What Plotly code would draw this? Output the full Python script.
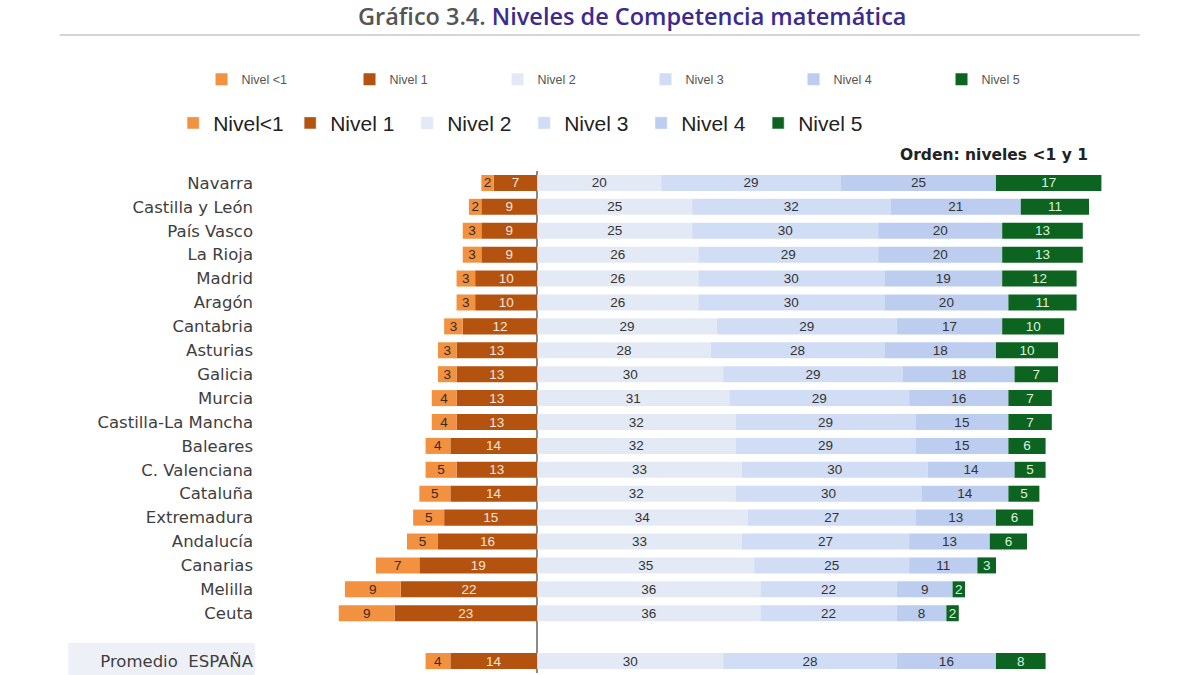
import plotly.graph_objects as go

regions = ["Navarra", "Castilla y León", "País Vasco", "La Rioja", "Madrid", "Aragón",
           "Cantabria", "Asturias", "Galicia", "Murcia", "Castilla-La Mancha", "Baleares",
           "C. Valenciana", "Cataluña", "Extremadura", "Andalucía", "Canarias", "Melilla",
           "Ceuta", "Promedio  ESPAÑA"]
spacer = " "

nivel_lt1 = [2, 2, 3, 3, 3, 3, 3, 3, 3, 4, 4, 4, 5, 5, 5, 5, 7, 9, 9, 4]
nivel_1 = [7, 9, 9, 9, 10, 10, 12, 13, 13, 13, 13, 14, 13, 14, 15, 16, 19, 22, 23, 14]
nivel_2 = [20, 25, 25, 26, 26, 26, 29, 28, 30, 31, 32, 32, 33, 32, 34, 33, 35, 36, 36, 30]
nivel_3 = [29, 32, 30, 29, 30, 30, 29, 28, 29, 29, 29, 29, 30, 30, 27, 27, 25, 22, 22, 28]
nivel_4 = [25, 21, 20, 20, 19, 20, 17, 18, 18, 16, 15, 15, 14, 14, 13, 13, 11, 9, 8, 16]
nivel_5 = [17, 11, 13, 13, 12, 11, 10, 10, 7, 7, 7, 6, 5, 5, 6, 6, 3, 2, 2, 8]

names = ["Nivel<1", "Nivel 1", "Nivel 2", "Nivel 3", "Nivel 4", "Nivel 5"]
names_small = ["Nivel <1", "Nivel 1", "Nivel 2", "Nivel 3", "Nivel 4", "Nivel 5"]
colors = ["#F2913F", "#B4520F", "#E4EAF5", "#D1DDF4", "#BCCDEF", "#0C6420"]
text_colors = ["#3A2A20", "#F6E6DA", "#333333", "#333333", "#333333", "#DDF2DD"]

categories = regions[:-1] + [spacer] + regions[-1:]

fig = go.Figure()

series = [
    (1, nivel_1, -1),
    (0, nivel_lt1, -1),
    (2, nivel_2, 1),
    (3, nivel_3, 1),
    (4, nivel_4, 1),
    (5, nivel_5, 1),
]
for idx, vals, sign in series:
    fig.add_trace(go.Bar(
        y=regions,
        x=[sign * v for v in vals],
        orientation="h",
        name=names_small[idx],
        legendrank=idx + 1,
        marker=dict(color=colors[idx], line=dict(width=0)),
        text=[str(v) for v in vals],
        textposition="inside",
        insidetextanchor="middle",
        textangle=0,
        constraintext="none",
        textfont=dict(family="Liberation Sans, Arial", size=13.5, color=text_colors[idx]),
        hoverinfo="skip",
        legend="legend",
    ))

# second (larger) legend
for idx in range(6):
    fig.add_trace(go.Bar(
        y=[regions[0]], x=[None], orientation="h",
        name=names[idx], legendrank=idx + 1,
        marker=dict(color=colors[idx]),
        legend="legend2", hoverinfo="skip",
    ))

fig.update_layout(
    barmode="relative",
    bargap=0.33,
    width=1200, height=675,
    paper_bgcolor="white", plot_bgcolor="white",
    margin=dict(l=260, r=80, t=171, b=2, autoexpand=False),
    font=dict(family="DejaVu Sans, Arial", color="#333333"),
    xaxis=dict(range=[-44.7, 94], showticklabels=False, showgrid=False,
               zeroline=True, zerolinecolor="#8A8A8A", zerolinewidth=2, fixedrange=True),
    yaxis=dict(categoryorder="array", categoryarray=categories, autorange=False,
               range=[20.5, -0.5], showgrid=False, zeroline=False, showline=False,
               ticks="", ticklabelstandoff=6,
               tickfont=dict(family="DejaVu Sans, Arial", size=16.5, color="#3E3E3E")),
    legend=dict(orientation="h", x=-0.068, y=1.212, xanchor="left", yanchor="top",
                entrywidth=103, entrywidthmode="pixels", traceorder="normal",
                font=dict(family="Liberation Sans, Arial", size=12.5, color="#555555"),
                bgcolor="rgba(0,0,0,0)"),
    legend2=dict(orientation="h", x=-0.101, y=1.136, xanchor="left", yanchor="top",
                 entrywidth=72, entrywidthmode="pixels", traceorder="normal",
                 font=dict(family="Liberation Sans, Arial", size=21, color="#222222"),
                 bgcolor="rgba(0,0,0,0)"),
    showlegend=True,
)

# title
fig.add_annotation(
    xref="paper", yref="paper", x=0.432, y=1.309, xanchor="center", yanchor="middle",
    text="<span style='color:#555555'>Gráfico 3.4.</span> "
         "<span style='color:#3B2B8E'>Niveles de Competencia matemática</span>",
    showarrow=False, font=dict(family="Open Sans", size=23.5, weight=600),
)
# title underline
fig.add_shape(type="line", xref="paper", yref="paper", x0=-0.233, x1=1.023,
              y0=1.271, y1=1.271, line=dict(color="#D5D5D5", width=2))

# order note
fig.add_annotation(
    xref="paper", yref="paper", x=0.965, y=1.032, xanchor="right", yanchor="middle",
    text="<b>Orden: niveles &lt;1 y 1</b>", showarrow=False,
    font=dict(family="DejaVu Sans, Arial", size=15.5, color="#222222"),
)

# background box behind "Promedio ESPAÑA"
fig.add_shape(type="rect", xref="paper", yref="paper", x0=-0.223, x1=-0.006,
              y0=-0.004, y1=0.06, line=dict(width=0), fillcolor="#EEF0F7", layer="below")

fig.write_html("out.html",
               config={"displayModeBar": False},
               post_script="document.body.style.margin='0';document.body.style.padding='0';")
